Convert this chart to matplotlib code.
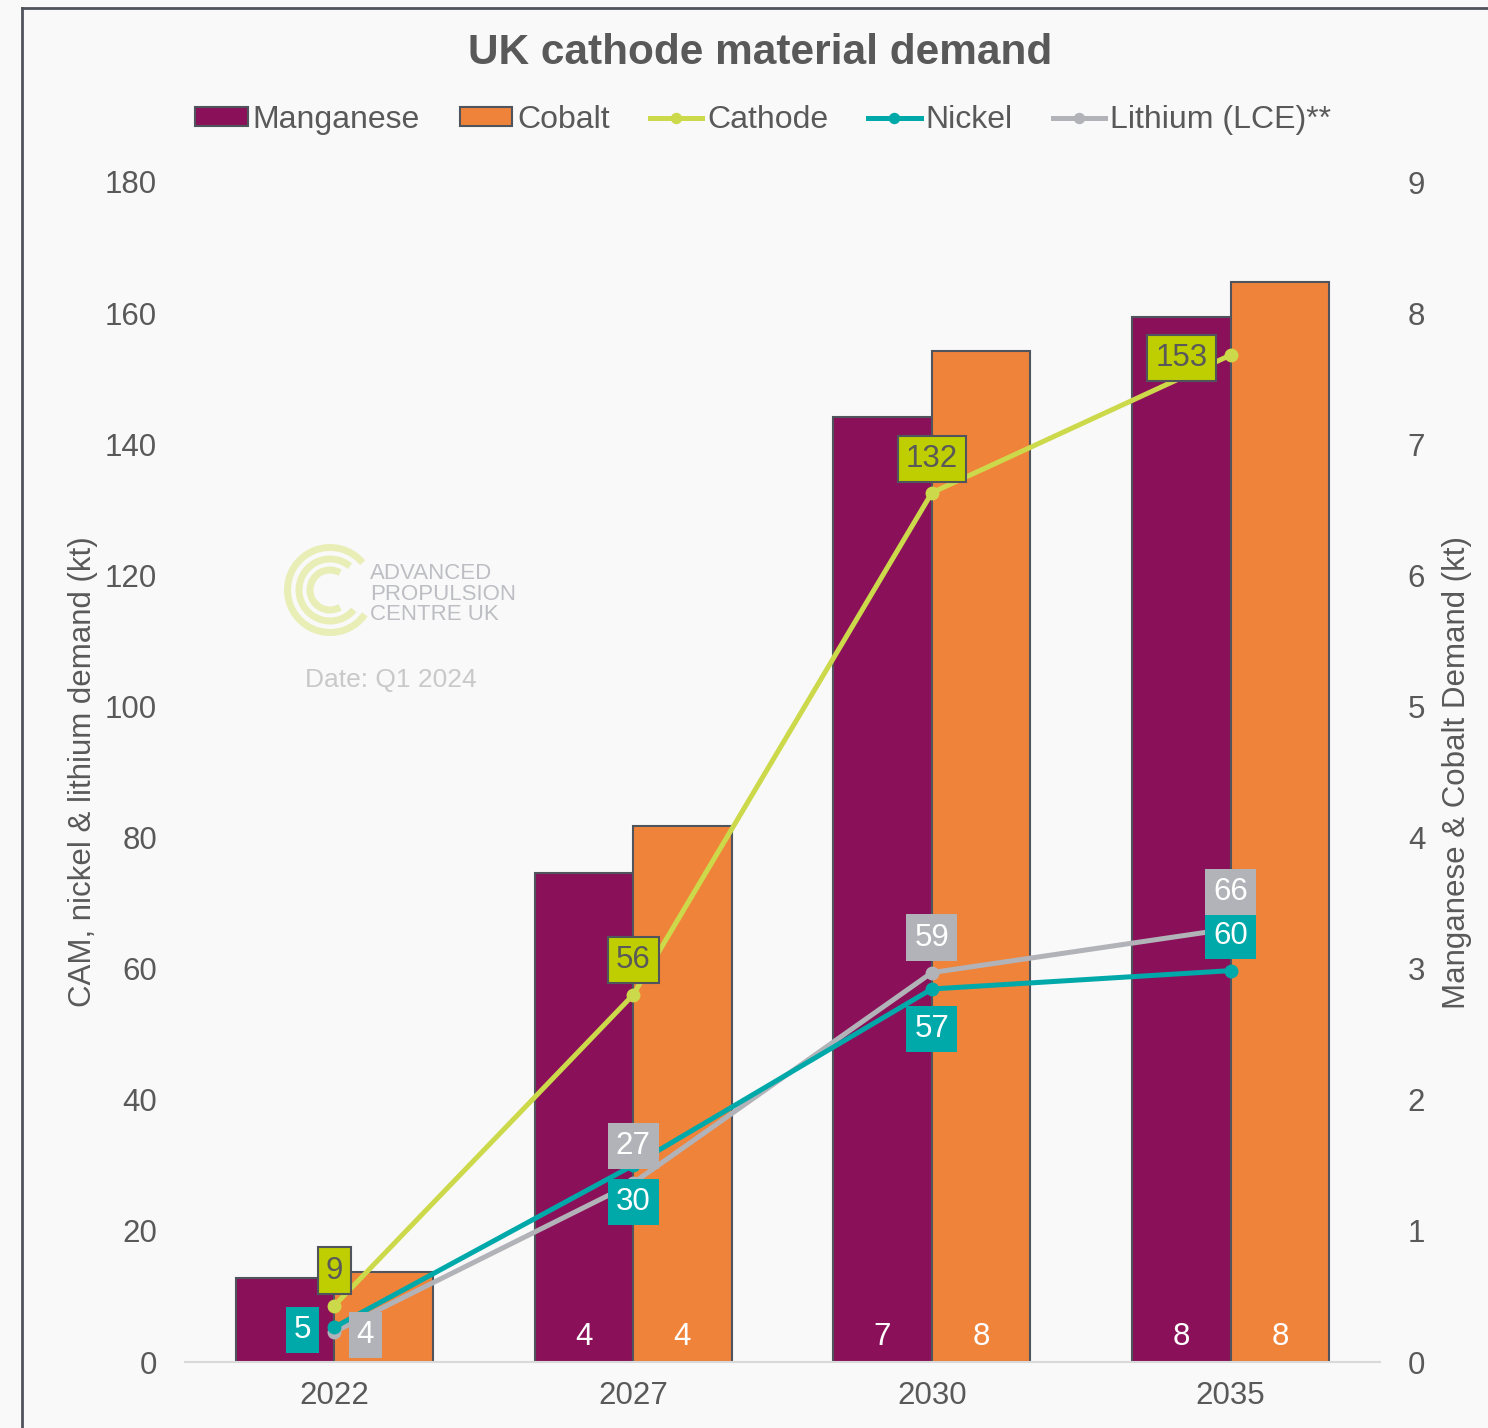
import matplotlib
matplotlib.use("Agg")
import matplotlib.pyplot as plt
import numpy as np
from matplotlib.patches import Arc, Patch
from matplotlib.lines import Line2D

plt.rcParams['font.family'] = ['Liberation Sans', 'DejaVu Sans']

# ---- data ----
years = ["2022", "2027", "2030", "2035"]
manganese = [0.64, 3.73, 7.21, 7.97]      # right axis (kt)
cobalt = [0.69, 4.09, 7.71, 8.24]         # right axis (kt)
cathode = [8.6, 56.0, 132.6, 153.6]       # left axis (kt)
nickel = [5.3, 30.0, 56.9, 59.7]
lithium = [4.6, 27.3, 59.4, 66.1]
cathode_lbl = ["9", "56", "132", "153"]
nickel_lbl = ["5", "30", "57", "60"]
lithium_lbl = ["4", "27", "59", "66"]
mn_lbl = ["", "4", "7", "8"]
co_lbl = ["", "4", "8", "8"]

# ---- colours ----
C_MN = "#8A1159"
C_CO = "#F0833A"
C_CAT = "#CCD94A"
C_CAT_BOX = "#BFCE00"
C_NI = "#00A9A9"
C_LI = "#B2B3B8"
C_TXT = "#595959"
C_EDGE = "#50545C"
BG = "#F9F9F9"

W, H = 1488, 1428
fig = plt.figure(figsize=(W / 100, H / 100), dpi=100, facecolor=BG)

def fx(px):
    return px / W

def fy(py):
    return 1 - py / H

TS = 22.5
axb = fig.add_axes([fx(185), fy(1362), fx(1380) - fx(185), fy(182) - fy(1362)])
axb.set_facecolor(BG)
x = np.arange(len(years))
bw = 0.33
axb.bar(x - bw / 2, manganese, bw, color=C_MN, edgecolor=C_EDGE, linewidth=1.5, zorder=2)
axb.bar(x + bw / 2, cobalt, bw, color=C_CO, edgecolor=C_EDGE, linewidth=1.5, zorder=2)
axb.set_ylim(0, 9)
axb.set_xlim(-0.5, 3.5)
axb.set_xticks(x)
axb.set_xticklabels(years)
axb.tick_params(axis='x', length=0, pad=14, labelsize=TS, labelcolor=C_TXT)
for s in ['top', 'left', 'right']:
    axb.spines[s].set_visible(False)
axb.spines['bottom'].set_color("#D9D9D9")
axb.spines['bottom'].set_linewidth(1.5)

for i in range(len(years)):
    if mn_lbl[i]:
        axb.text(x[i] - bw / 2, 0.19, mn_lbl[i], ha='center', va='center', color='white', fontsize=TS, zorder=3)
    if co_lbl[i]:
        axb.text(x[i] + bw / 2, 0.19, co_lbl[i], ha='center', va='center', color='white', fontsize=TS, zorder=3)

axl = axb.twinx()
# right axis for bars
axb.yaxis.tick_right()
axb.yaxis.set_label_position('right')
axb.set_yticks(range(0, 10))
axb.tick_params(axis='y', which='both', left=False, right=False, labelleft=False, labelright=True,
                length=0, pad=20, labelsize=TS, labelcolor=C_TXT)
axb.set_ylabel("Manganese & Cobalt Demand (kt)", fontsize=22.5, color=C_TXT, labelpad=12)

# left axis for lines
axl.yaxis.tick_left()
axl.yaxis.set_label_position('left')
axl.set_ylim(0, 180)
axl.set_yticks(range(0, 181, 20))
axl.tick_params(axis='y', which='both', left=False, right=False, labelleft=True, labelright=False,
                length=0, pad=20, labelsize=TS, labelcolor=C_TXT)
for s in axl.spines.values():
    s.set_visible(False)
axl.set_ylabel("CAM, nickel & lithium demand (kt)", fontsize=22.5, color=C_TXT, labelpad=5)

lw = 3.6
ms = 9
axl.plot(x, lithium, color=C_LI, lw=lw, marker='o', ms=ms, zorder=3)
axl.plot(x, nickel, color=C_NI, lw=lw, marker='o', ms=ms, zorder=4)
axl.plot(x, cathode, color=C_CAT, lw=lw, marker='o', ms=ms, zorder=5)

def lab(xi, yi, txt, dx, dy, face, tcol, edge=None):
    bbox = dict(boxstyle='square,pad=0.26', facecolor=face,
                edgecolor=edge if edge else face, linewidth=1.5 if edge else 0)
    axl.annotate(txt, (xi, yi), xytext=(dx, dy), textcoords='offset pixels',
                 ha='center', va='center', fontsize=TS, color=tcol, bbox=bbox, zorder=6)

# cathode labels
cat_off = [(0, 35), (0, 35), (0, 34), (-49, -3)]
for i in range(4):
    lab(x[i], cathode[i], cathode_lbl[i], cat_off[i][0], cat_off[i][1], C_CAT_BOX, C_TXT, edge=C_EDGE)
# nickel labels
ni_off = [(-32, -3), (0, -37), (0, -40), (0, 35)]
for i in range(4):
    lab(x[i], nickel[i], nickel_lbl[i], ni_off[i][0], ni_off[i][1], C_NI, 'white')
# lithium labels
li_off = [(31, -3), (0, 37), (0, 35), (0, 37)]
for i in range(4):
    lab(x[i], lithium[i], lithium_lbl[i], li_off[i][0], li_off[i][1], C_LI, 'white')

# title
fig.text(fx(760), fy(53), "UK cathode material demand", ha='center', va='center',
         fontsize=30.5, fontweight='bold', color=C_TXT)

# legend
handles = [
    Patch(facecolor=C_MN, edgecolor=C_EDGE, linewidth=1.5),
    Patch(facecolor=C_CO, edgecolor=C_EDGE, linewidth=1.5),
    Line2D([0], [0], color=C_CAT, lw=lw, marker='o', ms=ms * 0.8),
    Line2D([0], [0], color=C_NI, lw=lw, marker='o', ms=ms * 0.8),
    Line2D([0], [0], color=C_LI, lw=lw, marker='o', ms=ms * 0.8),
]
labels = ["Manganese", "Cobalt", "Cathode", "Nickel", "Lithium (LCE)**"]
fig.legend(handles, labels, loc='center', bbox_to_anchor=(fx(763), fy(120)), ncol=5,
           frameon=False, fontsize=23, labelcolor=C_TXT, handlelength=1.65,
           handletextpad=0.15, columnspacing=1.25, handleheight=0.55)

# watermark logo
axw = fig.add_axes([fx(280), fy(640), fx(100), fy(540) - fy(640)])
axw.set_xlim(-1, 1)
axw.set_ylim(-1, 1)
axw.set_aspect('equal')
axw.axis('off')
for r, t1, t2 in [(0.85, 40, 325), (0.62, 50, 320), (0.40, 60, 300)]:
    axw.add_patch(Arc((0, 0), 2 * r, 2 * r, theta1=t1, theta2=t2, color="#E8EEB5", lw=5))
fig.text(fx(370), fy(594), "ADVANCED\nPROPULSION\nCENTRE UK", ha='left', va='center',
         fontsize=16, color="#BDBEC3", linespacing=0.95)
fig.text(fx(305), fy(680), "Date: Q1 2024", ha='left', va='center', fontsize=19, color="#C9C9C9")

# border lines
fig.add_artist(Line2D([fx(22), fx(22)], [fy(8), 0], color="#50545C", lw=2, transform=fig.transFigure))
fig.add_artist(Line2D([fx(22), 1], [fy(8), fy(8)], color="#50545C", lw=2, transform=fig.transFigure))

fig.savefig("out.png", dpi=100, facecolor=BG)
